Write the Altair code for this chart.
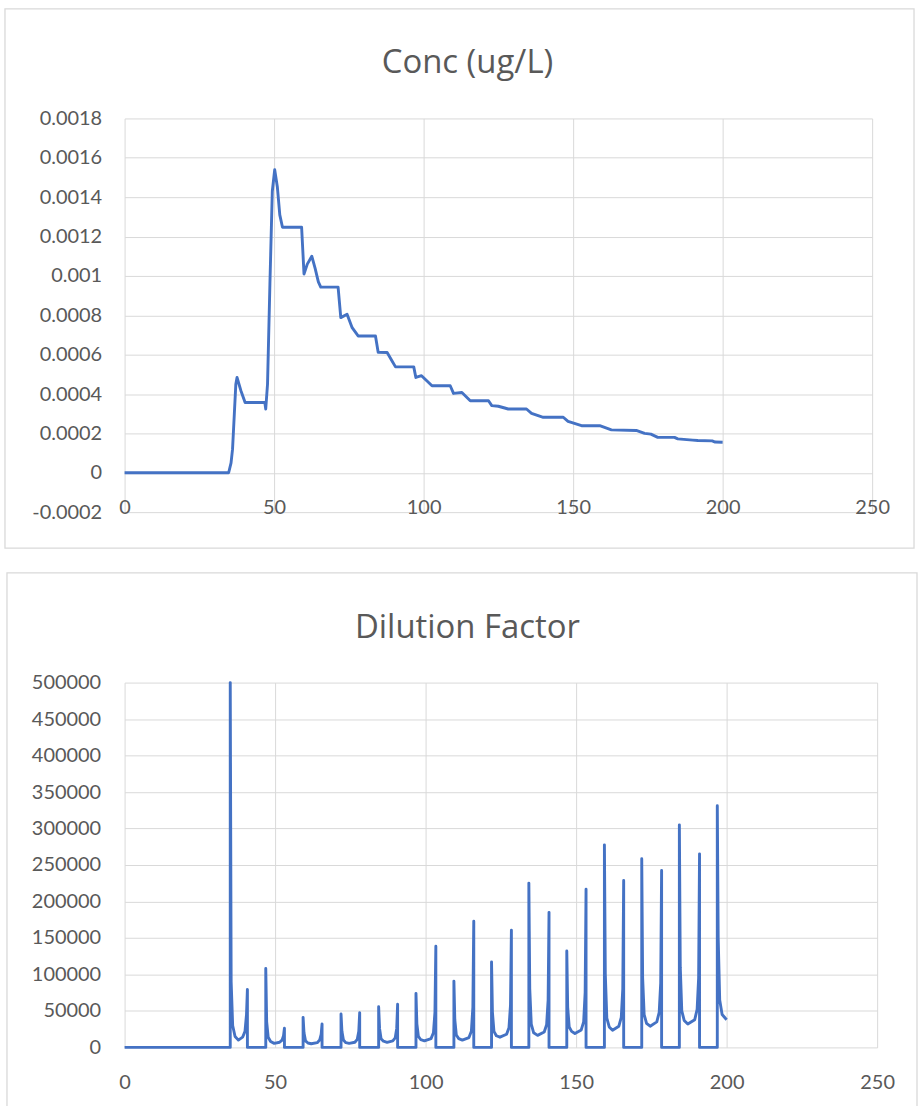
import altair as alt
import pandas as pd

FONT = "Lato"
TITLE_FONT = "Open Sans"
TEXT_GREY = "#595959"
GRID_GREY = "#d9d9d9"
LINE_BLUE = "#4472C4"

# ---------------- Concentration (ug/L) over time ----------------
conc_title = "Conc (ug/L)"
conc_t = [0, 34.8, 35.6, 36.1, 36.7, 37.2, 37.6, 38.9, 40.3, 46.9, 47.2, 47.8,
          48.6, 49.4, 50.2, 51.1, 51.9, 52.8, 59.2, 60.0, 61.1, 62.6, 63.7, 64.8,
          65.6, 71.4, 72.3, 74.4, 76.1, 78.1, 83.9, 84.8, 87.8, 89.4, 90.6, 96.7,
          97.4, 99.3, 102.8, 108.9, 110.0, 112.8, 115.6, 121.7, 122.8, 125.0,
          128.3, 134.4, 136.1, 140.0, 146.7, 148.3, 152.8, 158.9, 162.8, 171.1,
          173.9, 176.0, 178.3, 183.9, 185.0, 190.0, 191.7, 196.5, 197.5, 200.0]
conc_v = [0, 0, 0.00005, 0.00012, 0.00030, 0.00045, 0.000484, 0.000417, 0.000357,
          0.000357, 0.000324, 0.00045, 0.00096, 0.00143, 0.00154, 0.00145, 0.00131,
          0.001247, 0.001247, 0.00101, 0.00106, 0.0011, 0.00104, 0.00097, 0.000943,
          0.000943, 0.000788, 0.000805, 0.000737, 0.000695, 0.000695, 0.000612,
          0.000611, 0.000569, 0.000538, 0.000538, 0.000484, 0.000493, 0.000442,
          0.000442, 0.000403, 0.000408, 0.000366, 0.000366, 0.000341, 0.000338,
          0.000324, 0.000324, 0.000302, 0.000282, 0.000282, 0.000261, 0.000239,
          0.000239, 0.000218, 0.000215, 0.0002, 0.000196, 0.00018, 0.00018,
          0.000172, 0.000166, 0.000164, 0.000162, 0.000156, 0.000155]
conc_y_ticks = [-0.0002, 0, 0.0002, 0.0004, 0.0006, 0.0008, 0.001, 0.0012,
                0.0014, 0.0016, 0.0018]

# ---------------- Dilution factor over time ----------------
dil_title = "Dilution Factor"
rise_t = [35.1, 46.9, 59.3, 71.9, 84.4, 96.8, 109.4, 121.9, 134.3, 146.9,
          159.4, 171.8, 184.3, 196.9]
rise_peak = [500000, 108200, 41200, 45800, 55700, 74000, 90900, 117200, 225200,
             132200, 277600, 258500, 305000, 331300]
# values 0.3, 0.8 and 1.6 after each rising peak
after_rise = [[90000, 30000, 15000], [35000, 14000, 8000], [20000, 9000, 6000],
              [22000, 10000, 6500], [26000, 12000, 8500], [32000, 15000, 10500],
              [38000, 17000, 12000], [48000, 22000, 16000], [80000, 32000, 20000],
              [55000, 28000, 22000], [100000, 40000, 28000], [95000, 45000, 33000],
              [110000, 50000, 37000], [150000, 65000, 45000]]
trough_t = [37.8, 49.7, 62.0, 74.6, 87.2, 99.6, 112.2, 124.7, 137.2, 149.6,
            162.1, 174.6, 187.1]
trough = [10000, 5500, 5000, 5500, 7000, 9000, 10000, 14000, 16500, 19000,
          23500, 29000, 32000]
# values 1.6, 0.8 and 0.3 before each falling peak
before_fall = [[14000, 22000, 45000], [7000, 10000, 16000], [6500, 10000, 18000],
               [7000, 11000, 22000], [9000, 13000, 26000], [12000, 20000, 48000],
               [13500, 22000, 55000], [18000, 27000, 58000], [21000, 31000, 65000],
               [24000, 35000, 75000], [29000, 41000, 80000], [35000, 48000, 88000],
               [38000, 52000, 95000]]
fall_t = [40.8, 53.1, 65.6, 78.1, 90.7, 103.4, 116.0, 128.5, 141.0, 153.3,
          165.8, 178.4, 191.0]
fall_peak = [79500, 26300, 32100, 47600, 59100, 138600, 172800, 160500, 185100,
             216900, 228800, 242500, 265300]
end_t, end_v = 200.0, 38000
dil_y_ticks = [0, 50000, 100000, 150000, 200000, 250000, 300000, 350000,
               400000, 450000, 500000]
x_ticks = [0, 50, 100, 150, 200, 250]

AFTER_DT = [0.3, 0.8, 1.6]
BEFORE_DT = [1.6, 0.8, 0.3]

# assemble the dilution trace vertex by vertex
dil_pts = [(0.0, 0)]
for i, ta in enumerate(rise_t):
    dil_pts += [(ta, 0), (ta, rise_peak[i])]
    dil_pts += [(ta + dt, v) for dt, v in zip(AFTER_DT, after_rise[i])]
    if i < len(fall_t):
        tb = fall_t[i]
        dil_pts.append((trough_t[i], trough[i]))
        dil_pts += [(tb - dt, v) for dt, v in zip(BEFORE_DT, before_fall[i])]
        dil_pts += [(tb, fall_peak[i]), (tb, 0)]
dil_pts.append((end_t, end_v))

conc_df = pd.DataFrame({"t": conc_t, "v": conc_v, "i": range(len(conc_t))})
dil_df = pd.DataFrame({"t": [p[0] for p in dil_pts],
                       "v": [p[1] for p in dil_pts],
                       "i": range(len(dil_pts))})


def x_axis(pad):
    return alt.Axis(values=x_ticks, grid=True, ticks=False, tickSize=0,
                    domain=False, labelFlush=False, labelPadding=pad,
                    format="d", title=None)


def frame(x0, x1, y0, y1):
    return alt.Chart(alt.Data(values=[{}])).mark_rect(
        fillOpacity=0, stroke=GRID_GREY, strokeWidth=1.3
    ).encode(x=alt.value(x0), x2=alt.value(x1), y=alt.value(y0), y2=alt.value(y1))


def heading(text, x, y):
    return alt.Chart(alt.Data(values=[{"label": text}])).mark_text(
        font=TITLE_FONT, fontSize=33, color=TEXT_GREY, align="center",
        baseline="alphabetic"
    ).encode(text="label:N", x=alt.value(x), y=alt.value(y))


conc_line = alt.Chart(conc_df).mark_line(
    color=LINE_BLUE, strokeWidth=2.9, strokeJoin="round"
).encode(
    x=alt.X("t:Q", scale=alt.Scale(domain=[0, 250], nice=False), axis=x_axis(-15)),
    y=alt.Y("v:Q", scale=alt.Scale(domain=[-0.0002, 0.0018], nice=False),
            axis=alt.Axis(values=conc_y_ticks, grid=True, ticks=False, tickSize=0,
                          domain=False, labelPadding=23, title=None,
                          labelExpr="datum.value < 0 ? '-' + format(-datum.value, '.4~f') : format(datum.value, '.4~f')")),
    order="i:Q",
)

conc_chart = alt.layer(
    frame(-120, 792, -110, 431),
    conc_line,
    heading(conc_title, 344, -46),
).properties(width=750, height=395)

dil_line = alt.Chart(dil_df).mark_line(
    color=LINE_BLUE, strokeWidth=2.9, strokeJoin="round"
).encode(
    x=alt.X("t:Q", scale=alt.Scale(domain=[0, 250], nice=False), axis=x_axis(25)),
    y=alt.Y("v:Q", scale=alt.Scale(domain=[0, 500000], nice=False),
            axis=alt.Axis(values=dil_y_ticks, grid=True, ticks=False, tickSize=0,
                          domain=False, labelPadding=24, title=None, format="d")),
    order="i:Q",
)

dil_chart = alt.layer(
    frame(-118, 795, -110, 428),
    dil_line,
    heading(dil_title, 344, -45),
).properties(width=755, height=366)

chart = alt.vconcat(conc_chart, dil_chart, spacing=23).properties(
    padding={"left": 4, "top": 6, "right": 0, "bottom": 0},
    background="white",
).configure_view(stroke=None).configure_axis(
    labelFont=FONT, labelFontSize=20, labelColor=TEXT_GREY,
    gridColor=GRID_GREY, gridWidth=1,
)

chart.save("out.html", embed_options={"renderer": "svg", "actions": False})
